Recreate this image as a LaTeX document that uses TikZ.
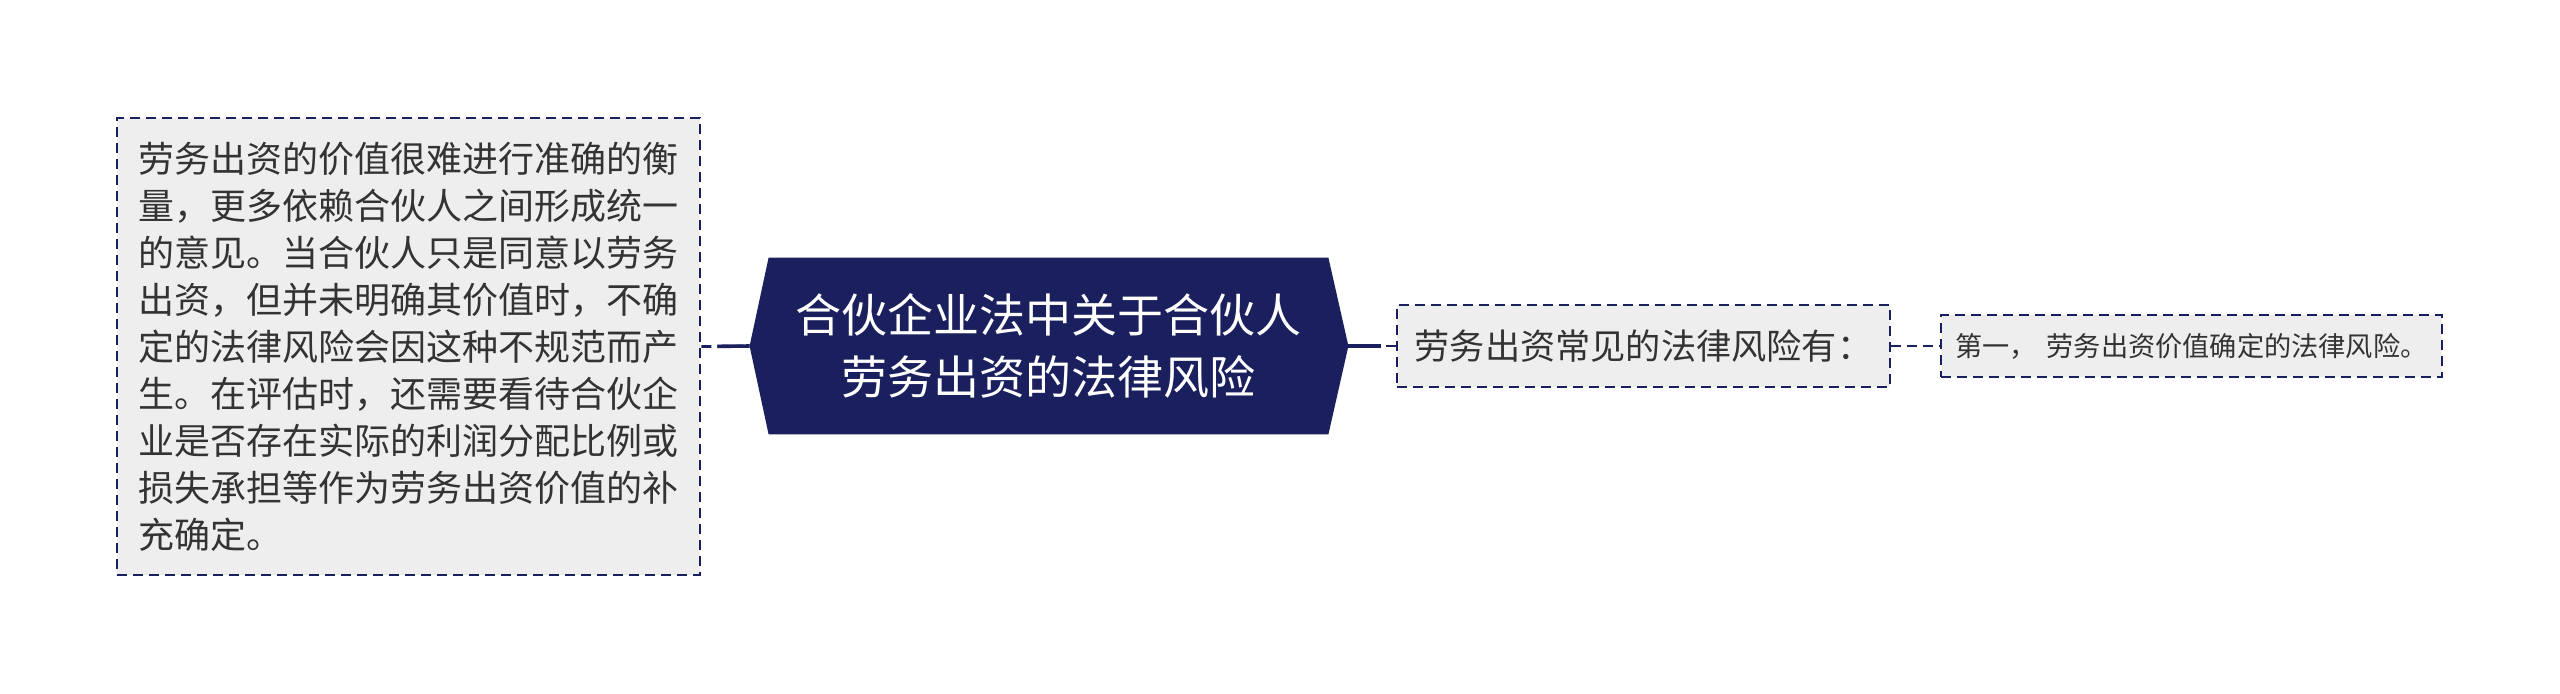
\documentclass[tikz,border=0pt]{standalone}
\usepackage{fontspec}
\newfontfamily\cjk{Noto Sans CJK SC}
\usetikzlibrary{backgrounds}
\definecolor{navy}{HTML}{1A1F5E}
\definecolor{boxfill}{HTML}{EEEEEE}
\definecolor{txt}{HTML}{333333}
\begin{document}
\begin{tikzpicture}[x=0.5pt,y=-0.5pt,
  dashbox/.style={draw=navy, line width=1.4pt, dash pattern=on 5pt off 3pt, fill=boxfill, text=txt, inner sep=0pt},
  thinlink/.style={draw=navy, line width=1.4pt, dash pattern=on 5pt off 3pt},
  thicklink/.style={draw=navy, line width=1.8pt}]
\useasboundingbox (0,0) rectangle (2560,693);
\node[dashbox, minimum width=291.5pt, minimum height=228.5pt, text width=270pt, align=left,
  font=\cjk\fontsize{18pt}{23.5pt}\selectfont] (L) at (408.5,346.5)
  {劳务出资的价值很难进行准确的衡\\量，更多依赖合伙人之间形成统一\\的意见。当合伙人只是同意以劳务\\出资，但并未明确其价值时，不确\\定的法律风险会因这种不规范而产\\生。在评估时，还需要看待合伙企\\业是否存在实际的利润分配比例或\\损失承担等作为劳务出资价值的补\\充确定。};
\node[text=white, minimum width=279.5pt, minimum height=88pt, inner sep=0pt, align=center,
  font=\cjk\fontsize{23pt}{31pt}\selectfont] (C) at (1048.5,346)
  {合伙企业法中关于合伙人\\劳务出资的法律风险};
\begin{scope}[on background layer]
\fill[navy] (C.north west) -- (C.north east) -- ([xshift=10pt]C.east) -- (C.south east)
  -- (C.south west) -- ([xshift=-9.5pt]C.west) -- cycle;
\end{scope}
\coordinate (Cw) at ([xshift=-9.5pt]C.west);
\coordinate (Ce) at ([xshift=10pt]C.east);
\node[dashbox, minimum width=246.5pt, minimum height=41pt,
  font=\cjk\fontsize{17.6pt}{20pt}\selectfont] (S) at (1643.5,346) {劳务出资常见的法律风险有：};
\node[dashbox, minimum width=250.5pt, minimum height=31pt,
  font=\cjk\fontsize{13.6pt}{16pt}\selectfont] (T) at (2191.5,346) {第一，\hspace{0.35em}劳务出资价值确定的法律风险。};
\draw[thinlink] (L.east) -- (Cw);
\draw[thicklink, shorten >=8pt] (Cw) -- (L.east);
\draw[thinlink] (S.west) -- (Ce);
\draw[thicklink, shorten >=7.5pt] (Ce) -- (S.west);
\draw[thinlink] (S.east) -- (T.west);
\end{tikzpicture}
\end{document}
